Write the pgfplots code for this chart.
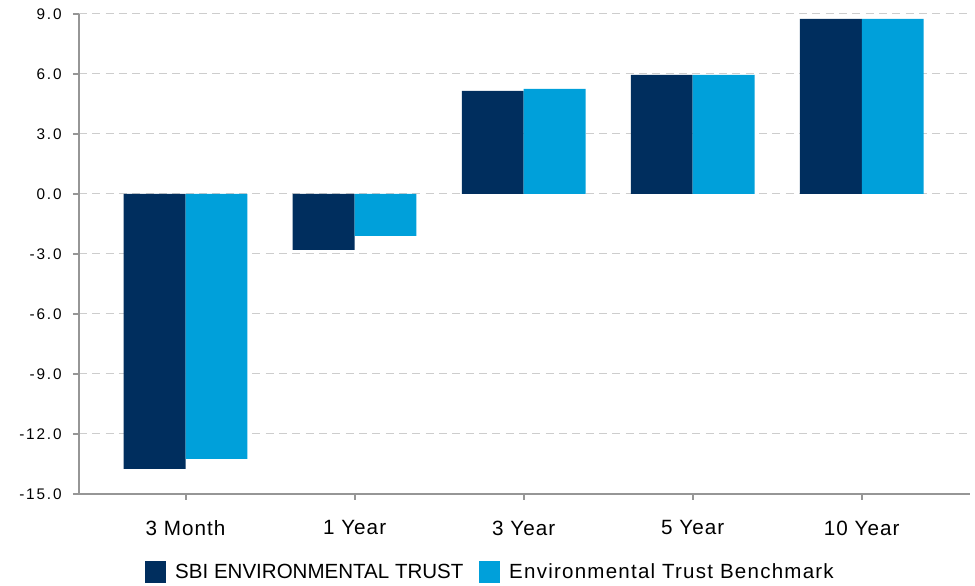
\documentclass[border=0pt]{standalone}
\usepackage{fontspec}
\setmainfont{Liberation Sans}
\newfontfamily\ytickfont[LetterSpace=12]{Liberation Sans}
\newfontfamily\xtickfont[LetterSpace=5]{Liberation Sans}
\newfontfamily\spacedfont[LetterSpace=6]{Liberation Sans}
\usepackage{pgfplots}
\pgfplotsset{compat=1.18}
\definecolor{fund}{RGB}{0,46,94}
\definecolor{bench}{RGB}{0,160,218}
\definecolor{axgray}{RGB}{150,150,150}
\definecolor{gridgray}{RGB}{205,205,205}
\begin{document}
\begin{tikzpicture}
\begin{axis}[
    scale only axis,
    width=668.25pt, height=360pt,
    at={(0,0)}, anchor=south west,
    axis lines*=left,
    axis line style={axgray, line width=1.5pt},
    ymin=-15, ymax=9,
    xmin=-0.63, xmax=4.64,
    ytick={-15,-12,-9,-6,-3,0,3,6,9},
    yticklabels={-15.0,-12.0,-9.0,-6.0,-3.0,0.0,3.0,6.0,9.0},
    xtick={0,1,2,3,4},
    xticklabels={3 Month,1 Year,3 Year,5 Year,10 Year},
    tick align=outside,
    major tick length=4.5pt,
    tick style={axgray, line width=1.5pt},
    ymajorgrids,
    grid style={gridgray, dash pattern=on 6pt off 4pt, line width=0.75pt},
    yticklabel style={font=\ytickfont\fontsize{11.5}{13}\selectfont, black, xshift=-5pt},
    xticklabel style={font=\xtickfont\fontsize{15.5}{18}\selectfont, black, yshift=-12pt},
    ybar,
    bar width=0.366,
    legend style={at={(0.462,-0.1625)}, anchor=center, draw=none,
        legend columns=2, font=\fontsize{15.4}{18}\selectfont,
        /tikz/every odd column/.append style={column sep=5pt},
        /tikz/every even column/.append style={column sep=9.5pt}},
    legend image code/.code={\fill[#1] (0pt,-7.9pt) rectangle (15.8pt,7.9pt);},
]
\addplot[draw=none, fill=fund, bar shift=-0.183] coordinates {
    (0,-13.75) (1,-2.8) (2,5.15) (3,5.95) (4,8.75)};
\addplot[draw=none, fill=bench, bar shift=0.183] coordinates {
    (0,-13.25) (1,-2.1) (2,5.25) (3,5.95) (4,8.75)};
\legend{SBI ENVIRONMENTAL TRUST, {\spacedfont Environmental Trust Benchmark}}
\end{axis}
\path[use as bounding box] (-59.25pt,-68.25pt) rectangle (672pt,370.5pt);
\end{tikzpicture}
\end{document}
